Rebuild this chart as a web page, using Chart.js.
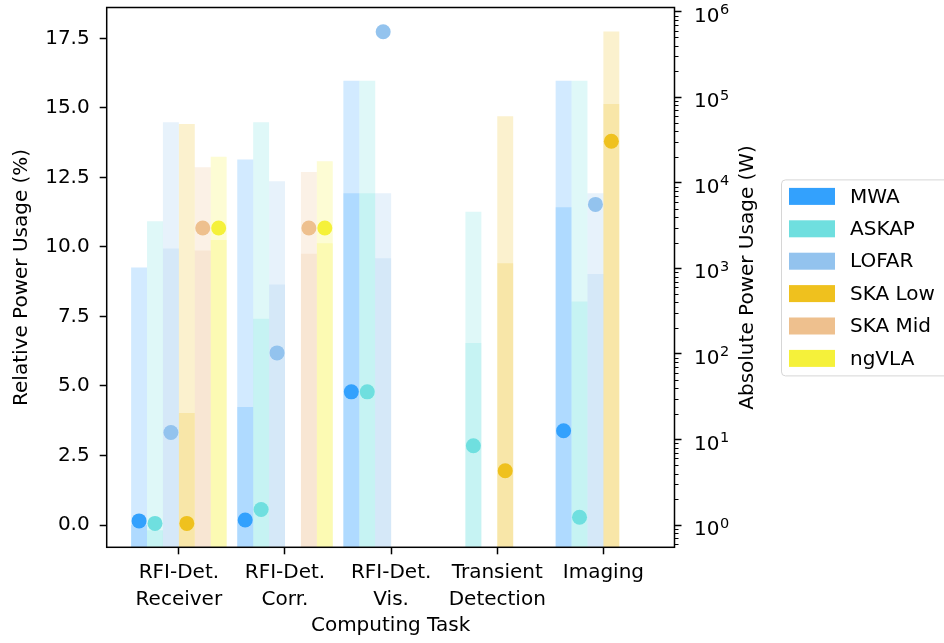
<!DOCTYPE html>
<html>
<head>
<meta charset="utf-8">
<script src="https://cdn.jsdelivr.net/npm/chart.js@4.4.1/dist/chart.umd.min.js"></script>
<style>
  html, body { margin: 0; padding: 0; background: #fff; }
</style>
</head>
<body>
<canvas id="myChart" width="944" height="643"></canvas>
<script>
// x軸のタスク名
const tasks = ["RFI-Det.\nReceiver", "RFI-Det.\nCorr.", "RFI-Det.\nVis.", "Transient\nDetection", "Imaging"];
const telescopes = ["MWA", "ASKAP", "LOFAR", "SKA Low", "SKA Mid", "ngVLA"];
const colors = ["#33a1fd", "#6fdfdf", "#93c3ee", "#efc11e", "#eec08e", "#f5f13a"];

// 絶対消費電力 (W) 上限
const mwaMaxW = [1020, 18700, 156000, null, 156000];
const askapMaxW = [3550, 50800, 156000, 4580, 156000];
const lofarMaxW = [50800, 10400, 7540, null, 7540];
const skaLowMaxW = [48700, null, null, 59700, 586000];
const skaMidMaxW = [15200, 13400, null, null, null];
const ngvlaMaxW = [20200, 17900, null, null, null];

// 絶対消費電力 (W) 下限
const mwaMinW = [1.0, 24, 7540, null, 5180];
const askapMinW = [0.87, 258, 7540, 134, 410];
const lofarMinW = [1710, 648, 1310, null, 860];
const skaLowMinW = [20.4, null, null, 1150, 83500];
const skaMidMinW = [1620, 1480, null, null, null];
const ngvlaMinW = [2150, 1960, null, null, null];

// 相対消費電力 (%)
const mwaRel = [0.15, 0.18, 4.79, null, 3.39];
const askapRel = [0.06, 0.56, 4.79, 2.85, 0.28];
const lofarRel = [3.33, 6.19, 17.74, null, 11.53];
const skaLowRel = [0.06, null, null, 1.95, 13.8];
const skaMidRel = [10.68, 10.68, null, null, null];
const ngvlaRel = [10.68, 10.68, null, null, null];

// 目盛り
const relTicks = [0, 2.5, 5, 7.5, 10, 12.5, 15, 17.5];
const absTicks = [1, 10, 100, 1000, 10000, 100000, 1000000];

const maxW = [mwaMaxW, askapMaxW, lofarMaxW, skaLowMaxW, skaMidMaxW, ngvlaMaxW];
const minW = [mwaMinW, askapMinW, lofarMinW, skaLowMinW, skaMidMinW, ngvlaMinW];
const relPct = [mwaRel, askapRel, lofarRel, skaLowRel, skaMidRel, ngvlaRel];

const groupWidth = 0.9;
const slot = groupWidth / telescopes.length;
const FONT = 20;

Chart.defaults.font.family = '"DejaVu Sans", sans-serif';
Chart.defaults.font.size = FONT;
Chart.defaults.color = "#000";

function withAlpha(hex, a) {
  const n = parseInt(hex.slice(1), 16);
  return `rgba(${(n >> 16) & 255}, ${(n >> 8) & 255}, ${n & 255}, ${a})`;
}

const datasets = [];
// 上限の棒（薄い）
telescopes.forEach((name, t) => {
  datasets.push({
    type: "bar",
    label: name,
    data: maxW[t].map((v, i) => ({ x: i, y: v })),
    backgroundColor: withAlpha(colors[t], 0.22),
    stack: name,
    yAxisID: "y1",
    order: 1,
  });
});
// 下限の棒（重ねて濃くなる）
telescopes.forEach((name, t) => {
  datasets.push({
    type: "bar",
    label: name + " min",
    data: minW[t].map((v, i) => ({ x: i, y: v })),
    backgroundColor: withAlpha(colors[t], 0.22),
    stack: name,
    yAxisID: "y1",
    order: 1,
  });
});
// 相対消費電力の点
telescopes.forEach((name, t) => {
  datasets.push({
    type: "scatter",
    label: name + " rel",
    data: relPct[t]
      .map((v, i) => (v === null ? null : { x: i + (t - 2.5) * slot, y: v }))
      .filter((p) => p !== null),
    backgroundColor: colors[t],
    borderWidth: 0,
    pointRadius: 7.5,
    yAxisID: "y",
    order: 0,
  });
});

const tickGrid = { offset: false, drawOnChartArea: false, tickLength: 7, tickWidth: 1.5, tickColor: "#000" };

// 枠線・副目盛り・右軸ラベル・凡例
const decor = {
  id: "decor",
  afterDatasetsDraw(chart) {
    const { ctx, chartArea: a } = chart;
    const y1 = chart.scales.y1;
    ctx.save();
    ctx.strokeStyle = "#000";
    ctx.lineWidth = 1.5;
    ctx.strokeRect(a.left, a.top, a.right - a.left, a.bottom - a.top);

    // 対数軸の副目盛り
    ctx.lineWidth = 1.1;
    ctx.beginPath();
    for (let e = -1; e <= 6; e++) {
      for (let k = 2; k <= 9; k++) {
        const v = k * Math.pow(10, e);
        if (v < y1.min || v > y1.max) continue;
        const py = Math.round(y1.getPixelForValue(v)) + 0.5;
        ctx.moveTo(a.right, py);
        ctx.lineTo(a.right + 4, py);
      }
    }
    ctx.stroke();

    // 右軸の目盛りラベル（10のべき乗）
    ctx.fillStyle = "#000";
    ctx.textAlign = "left";
    ctx.textBaseline = "alphabetic";
    absTicks.forEach((v) => {
      const py = y1.getPixelForValue(v);
      const x0 = a.right + 19.5;
      ctx.font = `${FONT}px "DejaVu Sans"`;
      ctx.fillText("10", x0, py + 10);
      const w = ctx.measureText("10").width;
      ctx.font = `14.5px "DejaVu Sans"`;
      ctx.fillText(String(Math.round(Math.log10(v))), x0 + w + 0.5, py + 2.5);
    });

    // 右軸タイトル
    ctx.font = `${FONT}px "DejaVu Sans"`;
    ctx.textAlign = "center";
    ctx.textBaseline = "middle";
    ctx.save();
    ctx.translate(a.right + 73, (a.top + a.bottom) / 2);
    ctx.rotate(-Math.PI / 2);
    ctx.fillText("Absolute Power Usage (W)", 0, 0);
    ctx.restore();

    // 凡例
    const lx = 781;
    const step = 32.4;
    const cy = (a.top + a.bottom) / 2;
    const first = cy - (step * (telescopes.length - 1)) / 2;
    const top = first - 17;
    const h = step * (telescopes.length - 1) + 34;
    ctx.beginPath();
    ctx.roundRect(lx + 0.5, top + 0.5, 200, h, 4);
    ctx.fillStyle = "rgba(255,255,255,0.8)";
    ctx.fill();
    ctx.strokeStyle = "#d6d6d6";
    ctx.lineWidth = 1;
    ctx.stroke();
    ctx.textAlign = "left";
    telescopes.forEach((name, t) => {
      const y = first + t * step;
      ctx.fillStyle = colors[t];
      ctx.fillRect(lx + 8, y - 8.5, 46, 17);
      ctx.fillStyle = "#000";
      ctx.fillText(name, lx + 69, y + 1);
    });
    ctx.restore();
  },
};

new Chart(document.getElementById("myChart"), {
  type: "bar",
  data: { datasets },
  options: {
    responsive: false,
    animation: false,
    devicePixelRatio: 1,
    categoryPercentage: groupWidth,
    barPercentage: 1.0,
    layout: { padding: { left: 0, top: 6.7, right: 163, bottom: 0 } },
    plugins: { legend: { display: false }, tooltip: { enabled: false } },
    scales: {
      x: {
        type: "linear",
        stacked: true,
        offset: false,
        min: -0.68,
        max: 4.67,
        bounds: "data",
        afterBuildTicks: (s) => { s.ticks = tasks.map((t, i) => ({ value: i })); },
        afterFit: (s) => { s.height = 95.7; s.paddingLeft = 0; s.paddingRight = 0; },
        grid: tickGrid,
        border: { display: false },
        ticks: {
          autoSkip: false,
          maxRotation: 0,
          padding: 5,
          font: { lineHeight: 1.34 },
          callback: (v) => tasks[v].split("\n"),
        },
        title: { display: true, text: "Computing Task", padding: { top: 0, bottom: 5 } },
      },
      y: {
        type: "linear",
        position: "left",
        min: -0.8,
        max: 18.61,
        bounds: "data",
        afterBuildTicks: (s) => { s.ticks = relTicks.map((v) => ({ value: v })); },
        afterFit: (s) => { s.width = 106.7; s.paddingTop = 0; s.paddingBottom = 0; },
        grid: tickGrid,
        border: { display: false },
        ticks: { padding: 10, callback: (v) => v.toFixed(1) },
        title: { display: true, text: "Relative Power Usage (%)", padding: { top: 10, bottom: 0 } },
      },
      y1: {
        type: "logarithmic",
        position: "right",
        stacked: false,
        min: 0.55,
        max: 1.117e6,
        bounds: "data",
        afterBuildTicks: (s) => { s.ticks = absTicks.map((v) => ({ value: v })); },
        afterFit: (s) => { s.width = 106.5; s.paddingTop = 0; s.paddingBottom = 0; },
        grid: tickGrid,
        border: { display: false },
        ticks: { display: false },
      },
    },
  },
  plugins: [decor],
});
</script>
</body>
</html>
